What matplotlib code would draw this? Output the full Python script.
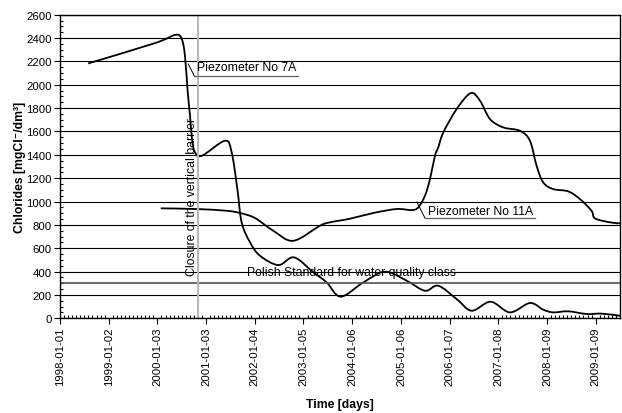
import numpy as np
import pandas as pd
import matplotlib
matplotlib.use('Agg')
import matplotlib.pyplot as plt
import matplotlib.dates as mdates
from matplotlib.ticker import MultipleLocator, FixedLocator
from matplotlib.path import Path
from matplotlib.patches import PathPatch

plt.rcParams['font.family'] = ['Liberation Sans', 'DejaVu Sans']

# Piezometer No 7A
dates_7a = ['1998-08-01', '1999-12-16', '2000-05-19', '2000-07-04', '2000-07-28',
            '2000-08-18', '2000-09-04', '2000-09-17', '2000-10-06', '2000-12-01',
            '2001-05-25', '2001-07-14', '2001-08-26', '2001-09-27', '2001-11-29',
            '2002-02-12', '2002-06-30', '2002-10-26', '2003-03-20', '2003-06-28',
            '2003-10-12', '2004-03-30', '2004-09-09', '2005-02-19', '2005-07-06',
            '2005-10-14', '2006-03-01', '2006-06-22', '2006-11-12', '2007-04-06',
            '2007-09-03', '2007-12-12', '2008-02-25', '2008-06-17', '2008-11-02',
            '2009-02-23', '2009-07-11']
vals_7a = [2183, 2357, 2428, 2391, 2248,
           1935, 1735, 1563, 1435, 1392,
           1521, 1421, 1107, 822, 651,
           536, 456, 522, 394, 308,
           186, 308, 399, 322, 236,
           279, 165, 65, 142, 51,
           131, 74, 51, 60, 37,
           40, 22]

# Piezometer No 11A
dates_11a = ['2000-01-28', '2000-10-24', '2001-06-07', '2001-09-15', '2002-01-05',
             '2002-05-23', '2002-10-20', '2003-05-09', '2003-07-23', '2003-12-20',
             '2004-06-13', '2004-12-05', '2005-03-28', '2005-05-17', '2005-07-06',
             '2005-08-13', '2005-09-19', '2005-10-14', '2005-11-21', '2006-03-01',
             '2006-06-15', '2006-08-24', '2006-11-07', '2007-02-15', '2007-06-20',
             '2007-09-03', '2007-10-23', '2007-12-12', '2008-02-25', '2008-06-17',
             '2008-09-13', '2008-12-09', '2009-01-04', '2009-04-27', '2009-07-11']
vals_11a = [942, 936, 921, 902, 859,
            750, 664, 793, 822, 853,
            902, 936, 927, 950, 1050,
            1193, 1392, 1464, 1592, 1792,
            1929, 1863, 1706, 1635, 1606,
            1521, 1307, 1164, 1107, 1087,
            1021, 921, 856, 822, 813]

standard = 300
barrier_date = '2000-11-03'
x_start = '1998-01-01'
x_end = '2009-07-11'
tick_step_days = 366


def smooth_path(xs, ys):
    # Excel-like smoothed line: cubic bezier through the points
    p = np.column_stack([xs, ys]).astype(float)
    verts = [p[0]]
    codes = [Path.MOVETO]
    n = len(p)
    for i in range(n - 1):
        p0 = p[i - 1] if i > 0 else p[i]
        p3 = p[i + 2] if i + 2 < n else p[i + 1]
        c1 = p[i] + (p[i + 1] - p0) / 6.0
        c2 = p[i + 1] - (p3 - p[i]) / 6.0
        verts += [c1, c2, p[i + 1]]
        codes += [Path.CURVE4] * 3
    return Path(verts, codes)


fig = plt.figure(figsize=(6.22, 4.14), dpi=100)
ax = fig.add_axes([0.0965, 0.2287, 0.9003, 0.7333])

ax.set_ylim(0, 2600)
ax.set_xlim(pd.Timestamp(x_start), pd.Timestamp(x_end))

ax.yaxis.set_major_locator(MultipleLocator(200))
ax.yaxis.set_minor_locator(MultipleLocator(50))
ax.grid(axis='y', which='major', color='black', lw=0.8)
ax.set_axisbelow(True)

t0 = mdates.date2num(pd.Timestamp(x_start))
t1 = mdates.date2num(pd.Timestamp(x_end))
ax.xaxis.set_major_locator(FixedLocator(np.arange(t0, t1, tick_step_days)))
ax.xaxis.set_minor_locator(FixedLocator(np.arange(t0, t1, tick_step_days / 12)))
ax.xaxis.set_major_formatter(mdates.DateFormatter('%Y-%m-%d'))

ax.tick_params(axis='both', which='major', direction='out', length=4, width=0.8, labelsize=8.2, pad=2)
ax.tick_params(axis='both', which='minor', direction='in', length=2.5, width=0.8)
for lbl in ax.get_xticklabels():
    lbl.set_rotation(90)
for s in ax.spines.values():
    s.set_linewidth(1.0)

ax.axhline(standard, color='#505050', lw=1.2)
ax.axvline(pd.Timestamp(barrier_date), color='#b8b8b8', lw=1.5)

for d, v in [(dates_7a, vals_7a), (dates_11a, vals_11a)]:
    xs = mdates.date2num(pd.to_datetime(d))
    ax.add_patch(PathPatch(smooth_path(xs, v), facecolor='none', edgecolor='black', lw=1.3))

# labels and leader lines
ax.text(pd.Timestamp('2001-11-10'), 396, 'Polish Standard for water quality class',
        fontsize=8.8, ha='left', va='center')
ax.text(pd.Timestamp('2000-09-17'), 1051, 'Closure of the vertical barrier',
        fontsize=8.8, rotation=90, ha='center', va='center')

ax.text(pd.Timestamp('2000-10-27'), 2151, 'Piezometer No 7A', fontsize=8.8, ha='left', va='center')
ax.plot(pd.to_datetime(['2000-08-22', '2000-10-06']), [2177, 2077], color='black', lw=0.7)
ax.plot(pd.to_datetime(['2000-10-06', '2002-11-25']), [2077, 2077], color='#606060', lw=0.9)

ax.text(pd.Timestamp('2005-07-29'), 919, 'Piezometer No 11A', fontsize=8.8, ha='left', va='center')
ax.plot(pd.to_datetime(['2005-05-06', '2005-07-06']), [996, 859], color='black', lw=0.7)
ax.plot(pd.to_datetime(['2005-07-06', '2007-10-11']), [859, 859], color='#606060', lw=0.9)

ax.set_ylabel('Chlorides [mgCl⁻/dm³]', fontsize=8.8, fontweight='bold')
ax.set_xlabel('Time [days]', fontsize=8.8, fontweight='bold')
ax.yaxis.set_label_coords(-0.061, 0.5)
ax.xaxis.set_label_coords(0.5, -0.262)

fig.savefig('out.png', dpi=100)
